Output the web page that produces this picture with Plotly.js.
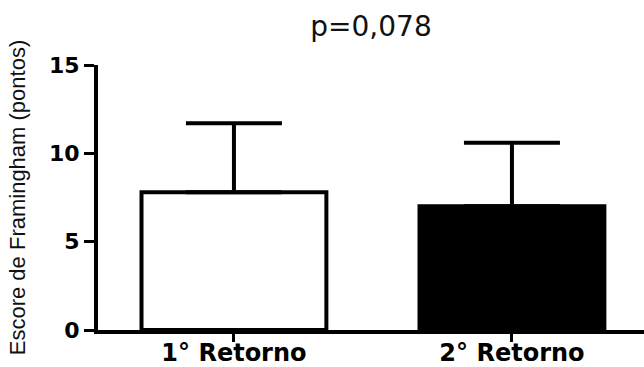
<!DOCTYPE html>
<html>
<head>
<meta charset="utf-8">
<script src="https://cdn.plot.ly/plotly-3.0.1.min.js"></script>
<style>html,body{margin:0;padding:0;background:#fff;}#chart{width:644px;height:367px;}</style>
</head>
<body>
<div id="chart"></div>
<script>
// Data
const categories = ["1° Retorno", "2° Retorno"];
const means = [7.8, 7.0];
const errPlus = [3.9, 3.6];
const fillColors = ["#ffffff", "#000000"];
const yTickVals = [0, 5, 10, 15];
const yTickText = ["0", "5", "10", "15"];
const chartTitle = "p=0,078";
const yTitle = "Escore de Framingham (pontos)";

const trace = {
  type: "bar",
  x: categories,
  y: means,
  width: 0.665,
  marker: { color: fillColors, line: { color: "#000000", width: 4 } },
  error_y: {
    type: "data",
    symmetric: false,
    array: errPlus,
    arrayminus: [0, 0],
    color: "#000000",
    thickness: 4,
    width: 48
  },
  hoverinfo: "none"
};

const layout = {
  width: 644,
  height: 367,
  margin: { l: 98, r: 0, t: 65, b: 37, pad: 0 },
  paper_bgcolor: "#ffffff",
  plot_bgcolor: "#ffffff",
  showlegend: false,
  title: {
    text: chartTitle,
    font: { family: "DejaVu Sans, sans-serif", size: 28, color: "#111111" },
    xref: "paper", x: 0.5, xanchor: "center",
    yref: "container", y: 1 - 26 / 367, yanchor: "middle"
  },
  xaxis: {
    type: "category",
    range: [-0.489, 1.475],
    showline: true, linecolor: "#000000", linewidth: 4,
    ticks: "outside", ticklen: 8, tickwidth: 3, tickcolor: "#000000",
    ticklabelstandoff: -10,
    showgrid: false, zeroline: false,
    tickfont: { family: "DejaVu Sans, sans-serif", size: 24, color: "#000000", weight: "bold" },
    fixedrange: true
  },
  yaxis: {
    range: [0, 15],
    tickvals: yTickVals,
    ticktext: yTickText,
    showline: true, linecolor: "#000000", linewidth: 4,
    ticks: "outside", ticklen: 10, tickwidth: 3, tickcolor: "#000000",
    showgrid: false, zeroline: false,
    tickfont: { family: "DejaVu Sans, sans-serif", size: 22, color: "#000000", weight: "bold" },
    title: {
      text: yTitle,
      font: { family: "Liberation Sans, Arial, sans-serif", size: 22, color: "#111111" },
      standoff: 18
    },
    fixedrange: true
  }
};

Plotly.newPlot("chart", [trace], layout, { displayModeBar: false, staticPlot: true });
</script>
</body>
</html>
